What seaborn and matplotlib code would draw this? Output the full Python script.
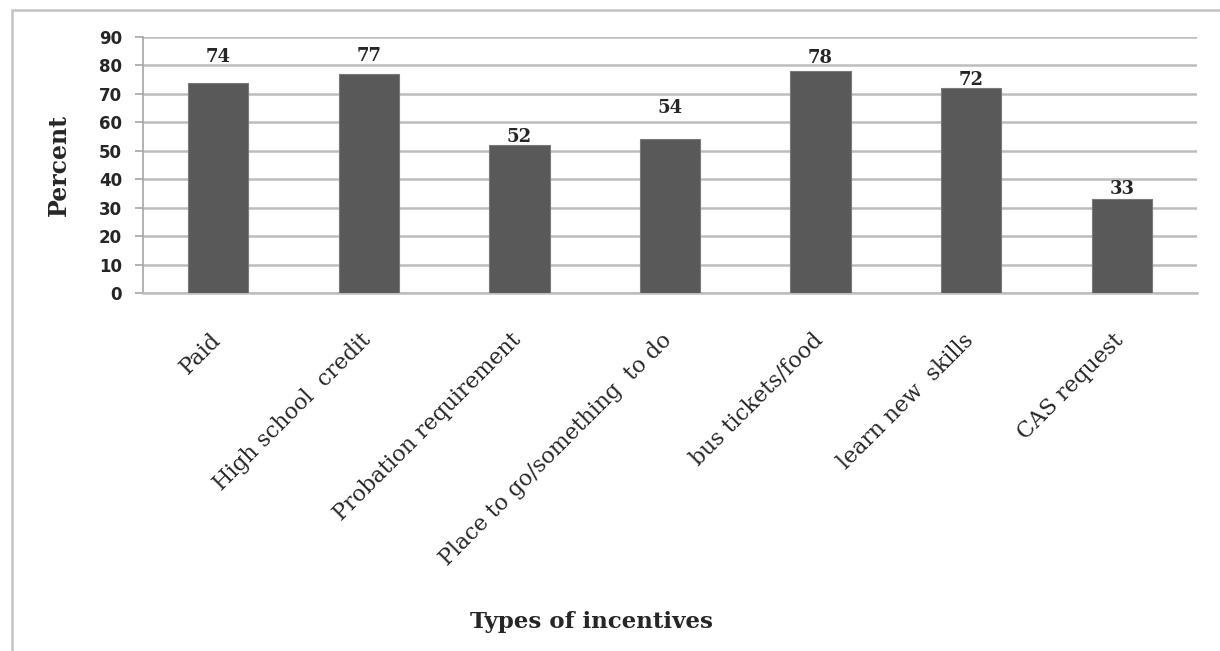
import matplotlib
matplotlib.use("Agg")
import matplotlib.pyplot as plt
import matplotlib.transforms as mtransforms
import seaborn as sns
import pandas as pd
from matplotlib.patches import Rectangle

categories = ["Paid", "High school  credit", "Probation requirement",
              "Place to go/something  to do", "bus tickets/food",
              "learn new  skills", "CAS request"]
percent = [74, 77, 52, 54, 78, 72, 33]
yticks = list(range(0, 100, 10))

# per-label vertical offsets (points) to mimic the original label placement
label_offsets = [15, 9, 2, 19, 6, 2, 4]

sns.set_style("white")
plt.rcParams["font.family"] = ["DejaVu Serif", "DejaVu Sans"]

fig = plt.figure(figsize=(12.2, 6.51), dpi=100)
ax = fig.add_axes([143/1220, 1-293/651, (1197-143)/1220, (293-37)/651])

df = pd.DataFrame({"cat": categories, "pct": percent})
sns.barplot(data=df, x="cat", y="pct", ax=ax, color="#595959", width=0.4,
            saturation=1, edgecolor="#7a7a7a", linewidth=0.8, zorder=3)

ax.set_ylim(0, 90)
ax.set_yticks(yticks)
ax.set_yticklabels([str(v) for v in yticks], fontfamily="DejaVu Sans",
                   fontweight="bold", fontsize=12)
ax.yaxis.grid(True, color="#bdbdbd", linewidth=1.8, zorder=0)
ax.set_axisbelow(True)
for s in ["top", "right"]:
    ax.spines[s].set_visible(False)
ax.spines["left"].set_color("#a6a6a6")
ax.spines["left"].set_linewidth(1.2)
ax.spines["bottom"].set_color("#bdbdbd")
ax.spines["bottom"].set_linewidth(1.8)
ax.tick_params(axis="y", length=6, color="#a6a6a6", width=1.2, pad=9, left=True)
ax.tick_params(axis="x", length=0, pad=26)

ax.set_xticks(range(len(categories)))
ax.set_xticklabels(categories, rotation=45, ha="right", rotation_mode="anchor",
                   fontsize=15.8)
shift = mtransforms.ScaledTranslation(-9/100, 0, fig.dpi_scale_trans)
for lab in ax.get_xticklabels():
    lab.set_transform(lab.get_transform() + shift)
ax.set_xlabel("")
ax.set_ylabel("Percent", fontsize=17, fontweight="bold", labelpad=20)

for i, (v, off) in enumerate(zip(percent, label_offsets)):
    ax.annotate(str(v), (i, v), xytext=(0, off), textcoords="offset points",
                ha="center", va="baseline", fontsize=13, fontweight="bold")

fig.text(591/1220, 1-622/651, "Types of incentives", ha="center", va="center",
         fontsize=16.5, fontweight="bold")

fig.patches.append(Rectangle((12/1220, -0.1), 1.2, 1-10/651+0.1,
                             transform=fig.transFigure, fill=False,
                             edgecolor="#c4c4c4", linewidth=1.8))

fig.savefig("out.png", dpi=100)
